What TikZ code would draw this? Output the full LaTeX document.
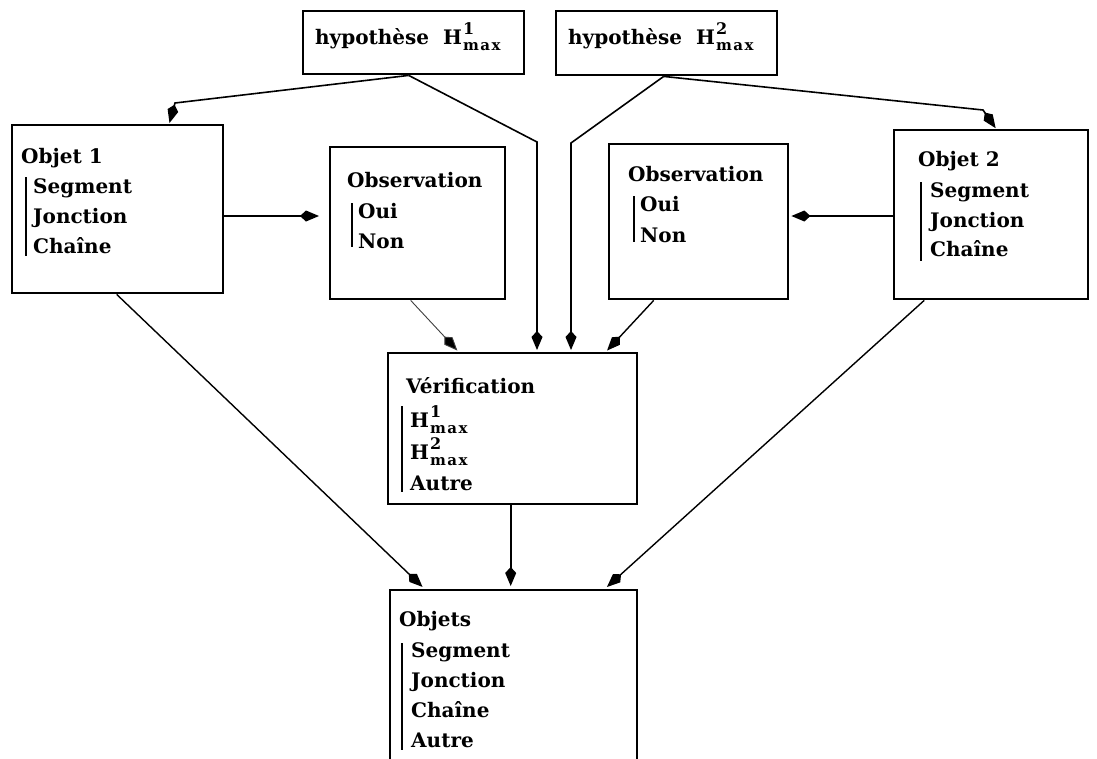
\documentclass[tikz,border=0pt]{standalone}
\usepackage{fontspec}
\setmainfont{DejaVu Serif}
\newfontfamily\subfont[LetterSpace=10]{DejaVu Serif}
\usetikzlibrary{arrows.meta}
% H with a raised index and a lowered "max"
\newcommand\hmx[1]{H\kern1pt\raisebox{10pt}{\rlap{\fontsize{16}{16}\selectfont #1}}\raisebox{-6pt}{\subfont\bfseries\fontsize{15}{15}\selectfont max}}
\begin{document}
\begin{tikzpicture}[x=1pt,y=-1pt,
  box/.style={draw, line width=2.4pt, rectangle, inner sep=0pt, anchor=north west},
  txt/.style={anchor=base west, inner sep=0pt, font=\fontsize{20}{24}\selectfont\bfseries},
  bar/.style={line width=2pt},
  tip/.style={-{Kite[length=19pt,width=11pt,inset=6pt]}},
  arr/.style={line width=1.6pt, tip},
  thinarr/.style={line width=0.9pt, draw=black!75, -{Kite[length=19pt,width=11pt,inset=6pt,fill=black]}},
]
\clip (0,0) rectangle (1097,758);
\fill[white] (0,0) rectangle (1097,758);

% boxes
\node[box, minimum width=221pt, minimum height=63pt] (h1) at (302,10) {};
\node[box, minimum width=221pt, minimum height=64pt] (h2) at (555,10) {};
\node[box, minimum width=211pt, minimum height=168pt] (ob1) at (11,124) {};
\node[box, minimum width=175pt, minimum height=152pt] (obs1) at (329,146) {};
\node[box, minimum width=179pt, minimum height=155pt] (obs2) at (608,143) {};
\node[box, minimum width=194pt, minimum height=169pt] (ob2) at (893,129) {};
\node[box, minimum width=249pt, minimum height=151pt] (ver) at (387,352) {};
\node[box, minimum width=247pt, minimum height=200pt] (objs) at (389,589) {};

% hypotheses
\node[txt] (h1t) at (315,44) {hypothèse\ \ \hmx{1}};
\node[txt] (h2t) at (568,44) {hypothèse\ \ \hmx{2}};

% Objet 1
\node[txt] (ob1a) at (21,163) {Objet 1};
\node[txt] (ob1b) at (33,193) {Segment};
\node[txt] (ob1c) at (33,223) {Jonction};
\node[txt] (ob1d) at (33,253) {Chaîne};
\draw[bar] (26,177) -- (26,256);

% Observation 1
\node[txt] (obs1a) at (347,187) {Observation};
\node[txt] (obs1b) at (358,218) {Oui};
\node[txt] (obs1c) at (358,248) {Non};
\draw[bar] (352,203) -- (352,247);

% Observation 2
\node[txt] (obs2a) at (628,181) {Observation};
\node[txt] (obs2b) at (640,211) {Oui};
\node[txt] (obs2c) at (640,242) {Non};
\draw[bar] (634,196) -- (634,242);

% Objet 2
\node[txt] (ob2a) at (918,166) {Objet 2};
\node[txt] (ob2b) at (930,197) {Segment};
\node[txt] (ob2c) at (930,227) {Jonction};
\node[txt] (ob2d) at (930,256) {Chaîne};
\draw[bar] (921,182) -- (921,261);

% Verification
\node[txt] (vera) at (406,393) {Vérification};
\node[txt] (verb) at (410,427) {\hmx{1}};
\node[txt] (verc) at (410,459) {\hmx{2}};
\node[txt] (verd) at (410,490) {Autre};
\draw[bar] (402,406) -- (402,492);

% Objets
\node[txt] (objsa) at (399,626) {Objets};
\node[txt] (objsb) at (411,657) {Segment};
\node[txt] (objsc) at (411,687) {Jonction};
\node[txt] (objsd) at (411,717) {Chaîne};
\node[txt] (objse) at (411,747) {Autre};
\draw[bar] (402,643) -- (402,750);

% bend points
\coordinate (k1) at (175,103);
\coordinate (k2) at (537,142);
\coordinate (k3) at (571,143);
\coordinate (k4) at (983,110);
\coordinate (yr) at (0,216);
\coordinate (vb) at ([xshift=-2pt]ver.south);

% connectors
\draw[arr, shorten >=1pt] ([xshift=-5pt]h1.south) -- (k1) -- ([xshift=51.5pt]ob1.north);
\draw[arr, shorten >=2pt] ([xshift=-5pt]h1.south) -- (k2) -- (k2 |- ver.north);
\draw[arr, shorten >=2pt] ([xshift=-3pt]h2.south) -- (k3) -- (k3 |- ver.north);
\draw[arr, shorten >=1pt] ([xshift=-3pt]h2.south) -- (k4) -- ([xshift=5pt]ob2.north);
\draw[arr, line width=1.3pt, shorten >=10pt] (ob1.east |- yr) -- (obs1.west |- yr);
\draw[arr, line width=1.3pt, shorten >=2pt] (ob2.west |- yr) -- (obs2.east |- yr);
\draw[thinarr, shorten >=2pt] ([xshift=-7pt]obs1.south) -- ([xshift=-54pt]ver.north);
\draw[arr, line width=1.4pt, shorten >=2pt] ([xshift=-45pt]obs2.south) -- ([xshift=93pt]ver.north);
\draw[arr, line width=1.4pt, shorten >=3pt] ([xshift=-1pt]ob1.south) -- ([xshift=-89pt]objs.north);
\draw[arr, line width=1.4pt, shorten >=3pt] ([xshift=-67pt]ob2.south) -- ([xshift=91pt]objs.north);
\draw[arr, shorten >=3pt] (vb) -- (vb |- objs.north);
\end{tikzpicture}
\end{document}
